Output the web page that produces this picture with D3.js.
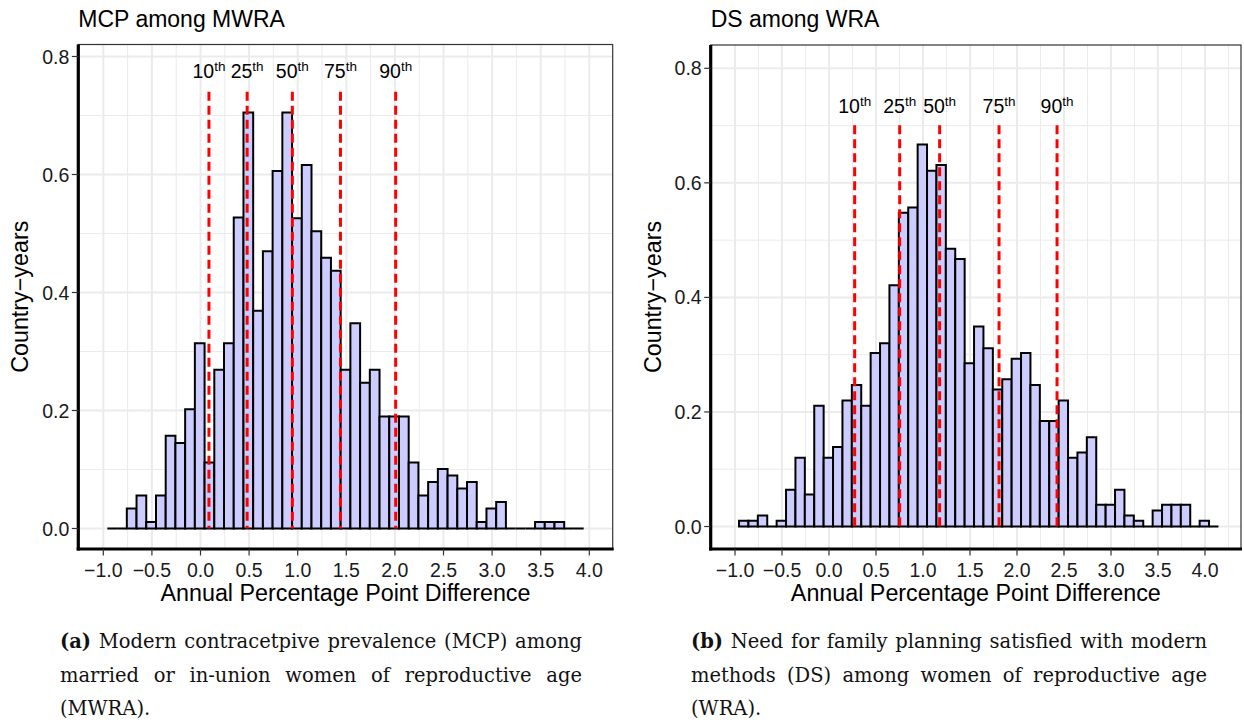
<!DOCTYPE html>
<html>
<head>
<meta charset="utf-8">
<script src="https://cdn.jsdelivr.net/npm/d3@7"></script>
<style>
  html, body { margin: 0; padding: 0; background: #fff; }
  svg { display: block; }
</style>
</head>
<body>
<svg id="chart" width="1244" height="723"></svg>
<script>
// ---- data -------------------------------------------------------------
const binWidth = 0.1;

// MCP among MWRA: histogram densities per 0.1-wide bin
const mcpBinStart = -0.958;
const mcpDensity = [0, 0, 0.034, 0.056, 0.011, 0.056, 0.157, 0.145, 0.202, 0.314,
  0.112, 0.269, 0.314, 0.527, 0.705, 0.369, 0.470, 0.606, 0.705, 0.526,
  0.616, 0.504, 0.459, 0.437, 0.269, 0.348, 0.247, 0.269, 0.190, 0.190,
  0.190, 0.112, 0.056, 0.079, 0.101, 0.090, 0.068, 0.079, 0.011, 0.034,
  0.045, 0, 0, 0, 0.011, 0.011, 0.011, 0, 0];
const mcpPercentiles = [0.087, 0.48, 0.945, 1.44, 2.008];

// DS among WRA
const dsBinStart = -0.957;
const dsDensity = [0.010, 0.010, 0.019, 0, 0.010, 0.064, 0.120, 0.056, 0.211, 0.120,
  0.139, 0.220, 0.247, 0.211, 0.303, 0.320, 0.421, 0.548, 0.557, 0.667,
  0.621, 0.631, 0.485, 0.467, 0.285, 0.349, 0.311, 0.239, 0.257, 0.293,
  0.303, 0.247, 0.184, 0.184, 0.220, 0.120, 0.129, 0.156, 0.038, 0.038,
  0.064, 0.019, 0.010, 0, 0.028, 0.038, 0.038, 0.038, 0, 0.010, 0];
const dsPercentiles = [0.273, 0.752, 1.177, 1.809, 2.426];

const percentileLabels = ["10", "25", "50", "75", "90"];
const xTicks = [-1.0, -0.5, 0.0, 0.5, 1.0, 1.5, 2.0, 2.5, 3.0, 3.5, 4.0];
const yTicks = [0.0, 0.2, 0.4, 0.6, 0.8];
const titles = ["MCP among MWRA", "DS among WRA"];
const xTitle = "Annual Percentage Point Difference";
const yTitle = "Country\u2212years";
const captionTags = ["(a)", "(b)"];
const captionLines = [
  ["Modern contracetpive prevalence (MCP) among",
   "married or in-union women of reproductive age",
   "(MWRA)."],
  ["Need for family planning satisfied with modern",
   "methods (DS) among women of reproductive age",
   "(WRA)."]
];

// ---- layout -----------------------------------------------------------
const panels = [
  { left: 78.3, right: 612.7, top: 44.5, bottom: 549,
    xRange: [103.3, 589.3], yRange: [528.5, 56.5],
    start: mcpBinStart, dens: mcpDensity, pct: mcpPercentiles,
    title: titles[0], tag: captionTags[0], caption: captionLines[0],
    capX: [60, 582] },
  { left: 710.7, right: 1241, top: 45, bottom: 549,
    xRange: [735, 1205], yRange: [526.5, 68.3],
    start: dsBinStart, dens: dsDensity, pct: dsPercentiles,
    title: titles[1], tag: captionTags[1], caption: captionLines[1],
    capX: [691, 1207] }
];

const SANS = "'Liberation Sans', Arial, Helvetica, sans-serif";
const SERIF = "'DejaVu Serif', serif";
const svg = d3.select("#chart");
const fmt = d3.format(".1f");
const minus = s => s.replace("-", "\u2212");

panels.forEach(p => {
  const x = d3.scaleLinear().domain([-1, 4]).range(p.xRange);
  const y = d3.scaleLinear().domain([0, 0.8]).range(p.yRange);
  const g = svg.append("g");

  // clip to panel
  const clipId = "clip" + p.tag.replace(/\W/g, "");
  svg.append("clipPath").attr("id", clipId)
    .append("rect").attr("x", p.left).attr("y", p.top)
    .attr("width", p.right - p.left).attr("height", p.bottom - p.top);
  const inner = g.append("g").attr("clip-path", `url(#${clipId})`);

  // grid: minor then major
  const xMinor = d3.range(-1.25, 4.51, 0.5);
  const yMinor = d3.range(0.1, 0.95, 0.2);
  inner.selectAll(".xminor").data(xMinor).join("line")
    .attr("x1", d => x(d)).attr("x2", d => x(d))
    .attr("y1", p.top).attr("y2", p.bottom)
    .attr("stroke", "#ebebeb").attr("stroke-width", 1);
  inner.selectAll(".yminor").data(yMinor).join("line")
    .attr("y1", d => y(d)).attr("y2", d => y(d))
    .attr("x1", p.left).attr("x2", p.right)
    .attr("stroke", "#ebebeb").attr("stroke-width", 1);
  inner.selectAll(".xmajor").data(xTicks).join("line")
    .attr("x1", d => x(d)).attr("x2", d => x(d))
    .attr("y1", p.top).attr("y2", p.bottom)
    .attr("stroke", "#ebebeb").attr("stroke-width", 2);
  inner.selectAll(".ymajor").data(yTicks).join("line")
    .attr("y1", d => y(d)).attr("y2", d => y(d))
    .attr("x1", p.left).attr("x2", p.right)
    .attr("stroke", "#ebebeb").attr("stroke-width", 2);

  // histogram bars (zero-height bins draw as a flat outline)
  const bins = p.dens.map((v, i) => ({
    x0: p.start + i * binWidth, x1: p.start + (i + 1) * binWidth, v
  }));
  inner.selectAll(".bar").data(bins).join("path")
    .attr("d", b => `M${x(b.x0)},${y(0)}V${y(b.v)}H${x(b.x1)}V${y(0)}Z`)
    .attr("fill", "#ccccff")
    .attr("stroke", "#000").attr("stroke-width", 2)
    .attr("stroke-linejoin", "miter");

  // percentile markers
  const peak = d3.max(p.dens);
  inner.selectAll(".pct").data(p.pct).join("line")
    .attr("x1", d => x(d)).attr("x2", d => x(d))
    .attr("y1", y(peak * 1.05)).attr("y2", y(0))
    .attr("stroke", "#ff0000").attr("stroke-width", 3)
    .attr("stroke-dasharray", "9,5");
  const lab = g.selectAll(".pctlab").data(p.pct).join("text")
    .attr("x", d => x(d)).attr("y", y(peak * 1.1) + 7)
    .attr("text-anchor", "middle")
    .attr("font-family", SANS).attr("font-size", 19.5).attr("fill", "#000");
  lab.append("tspan").text((d, i) => percentileLabels[i]);
  lab.append("tspan").attr("font-size", 13.5).attr("dy", -7).text("th");

  // panel border
  g.append("rect").attr("x", p.left).attr("y", p.top)
    .attr("width", p.right - p.left).attr("height", p.bottom - p.top)
    .attr("fill", "none").attr("stroke", "#333").attr("stroke-width", 1.2);

  // axis lines
  g.append("line").attr("x1", p.left).attr("x2", p.left)
    .attr("y1", p.top).attr("y2", p.bottom + 1.5)
    .attr("stroke", "#000").attr("stroke-width", 3.2);
  g.append("line").attr("x1", p.left - 1.6).attr("x2", p.right + 1)
    .attr("y1", p.bottom).attr("y2", p.bottom)
    .attr("stroke", "#000").attr("stroke-width", 3.2);

  // y axis ticks + labels
  g.selectAll(".ytick").data(yTicks).join("line")
    .attr("x1", p.left - 6.5).attr("x2", p.left)
    .attr("y1", d => y(d)).attr("y2", d => y(d))
    .attr("stroke", "#333").attr("stroke-width", 1.2);
  g.selectAll(".ylab").data(yTicks).join("text")
    .attr("x", p.left - 9).attr("y", d => y(d))
    .attr("dy", "0.36em").attr("text-anchor", "end")
    .attr("font-family", SANS).attr("font-size", 19.5).attr("fill", "#1a1a1a")
    .text(d => fmt(d));

  // x axis ticks + labels
  g.selectAll(".xtick").data(xTicks).join("line")
    .attr("x1", d => x(d)).attr("x2", d => x(d))
    .attr("y1", p.bottom).attr("y2", p.bottom + 6.5)
    .attr("stroke", "#333").attr("stroke-width", 1.2);
  g.selectAll(".xlab").data(xTicks).join("text")
    .attr("x", d => x(d)).attr("y", p.bottom + 28)
    .attr("text-anchor", "middle")
    .attr("font-family", SANS).attr("font-size", 19.5).attr("fill", "#1a1a1a")
    .text(d => minus(fmt(d)));

  // titles
  g.append("text").attr("x", p.left).attr("y", 27)
    .attr("font-family", SANS).attr("font-size", 23).attr("fill", "#000")
    .text(p.title);
  g.append("text").attr("x", (p.left + p.right) / 2).attr("y", p.bottom + 52)
    .attr("text-anchor", "middle")
    .attr("font-family", SANS).attr("font-size", 23.3).attr("fill", "#000")
    .text(xTitle);
  g.append("text")
    .attr("transform", `translate(${p.left - 50},${(p.top + p.bottom) / 2}) rotate(-90)`)
    .attr("text-anchor", "middle")
    .attr("font-family", SANS).attr("font-size", 23.3).attr("fill", "#000")
    .text(yTitle);

  // justified caption below the panel
  const capSize = 19.5;
  const baselines = [648, 682, 715];
  p.caption.forEach((line, li) => {
    const words = line.split(" ");
    const items = (li === 0 ? [{ t: p.tag, bold: true }] : [])
      .concat(words.map(w => ({ t: w, bold: false })));
    const nodes = items.map(it => g.append("text")
      .attr("y", baselines[li])
      .attr("font-family", SERIF).attr("font-size", capSize)
      .attr("font-weight", it.bold ? "bold" : "normal")
      .attr("fill", "#111").text(it.t));
    const widths = nodes.map(n => n.node().getComputedTextLength());
    const total = d3.sum(widths);
    const last = li === p.caption.length - 1;
    const gap = last ? capSize * 0.3
      : (p.capX[1] - p.capX[0] - total) / (nodes.length - 1);
    let cx = p.capX[0];
    nodes.forEach((n, i) => { n.attr("x", cx); cx += widths[i] + gap; });
  });
});
</script>
</body>
</html>
